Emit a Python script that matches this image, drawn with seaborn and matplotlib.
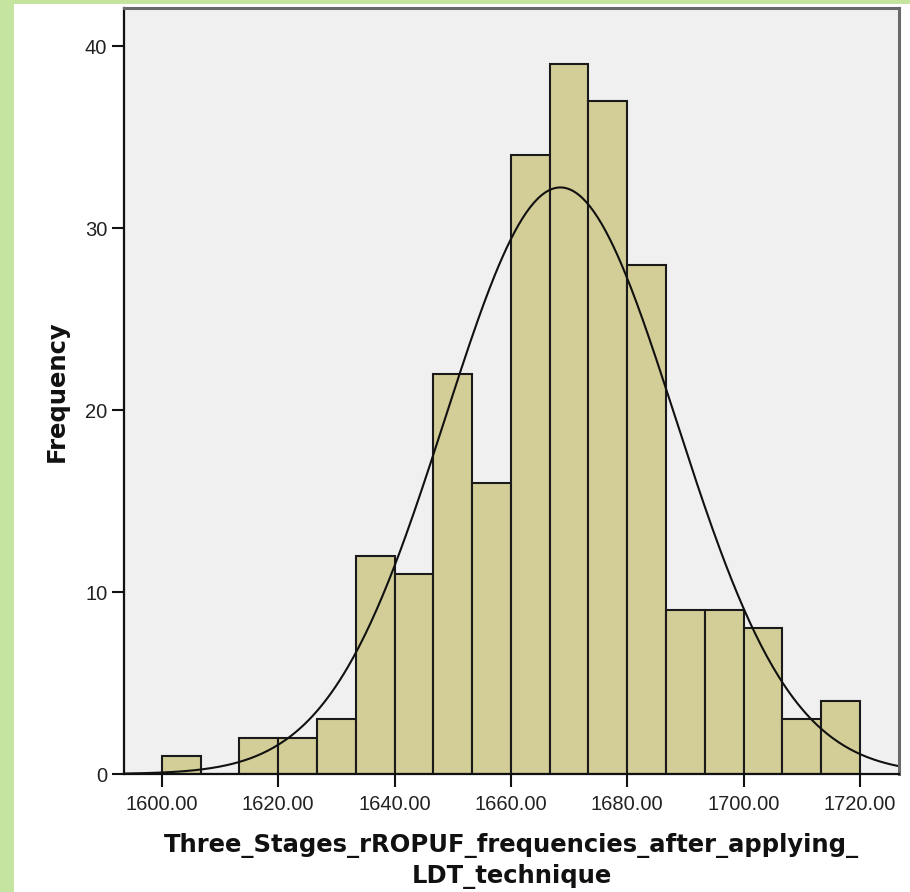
import numpy as np
import pandas as pd
import matplotlib
matplotlib.use("Agg")
import matplotlib.pyplot as plt
from matplotlib.patches import Rectangle
import seaborn as sns

# ---- data ----
bin_start = 1600.0
bin_end = 1720.0
n_bins = 18
counts = [1, 0, 2, 2, 3, 12, 11, 22, 16, 34, 39, 37, 28, 9, 9, 8, 3, 4]
curve_mean = 1668.5
curve_sd = 19.8
x_ticks = [1600, 1620, 1640, 1660, 1680, 1700, 1720]
y_ticks = [0, 10, 20, 30, 40]
x_label = "Three_Stages_rROPUF_frequencies_after_applying_\nLDT_technique"
y_label = "Frequency"

sns.set_theme(style="white")
plt.rcParams['font.family'] = ['Liberation Sans', 'DejaVu Sans']

edges = np.linspace(bin_start, bin_end, n_bins + 1)
centers = (edges[:-1] + edges[1:]) / 2
df = pd.DataFrame({"value": centers, "count": counts})

fig = plt.figure(figsize=(9.10, 8.92), dpi=100)
ax = fig.add_axes([124 / 910, 1 - 774 / 892, (899 - 124) / 910, (774 - 8) / 892])
ax.set_facecolor("#f0f0f0")

sns.histplot(data=df, x="value", weights="count", bins=[float(e) for e in edges], ax=ax,
             color="#d3ce97", alpha=1.0, edgecolor="#1a1a1a", linewidth=1.5)

xlim = (1593.5, 1726.7)
xs = np.linspace(xlim[0], xlim[1], 400)
total = sum(counts)
bw = (bin_end - bin_start) / n_bins
ys = total * bw / (curve_sd * np.sqrt(2 * np.pi)) * np.exp(-0.5 * ((xs - curve_mean) / curve_sd) ** 2)
sns.lineplot(x=xs, y=ys, ax=ax, color="#111111", linewidth=1.5)

ax.set_xlim(*xlim)
ax.set_ylim(0, 42.1)
ax.set_xticks(x_ticks)
ax.set_xticklabels([f"{t:.2f}" for t in x_ticks])
ax.set_yticks(y_ticks)
ax.tick_params(axis="both", direction="out", length=9, width=1.5, color="#111111",
               labelsize=14.5, labelcolor="#222222", bottom=True, left=True, pad=3)
ax.tick_params(axis="x", pad=6)

for s in ["left", "bottom"]:
    ax.spines[s].set_color("#111111")
    ax.spines[s].set_linewidth(1.6)
for s in ["top", "right"]:
    ax.spines[s].set_color("#6a6a6a")
    ax.spines[s].set_linewidth(2.2)
    ax.spines[s].set_visible(True)

ax.set_xlabel(x_label, fontsize=17.5, fontweight="bold", color="#111111", labelpad=14,
              linespacing=1.3, family=["DejaVu Sans"])
ax.set_ylabel(y_label, fontsize=17.5, fontweight="bold", color="#111111", labelpad=12,
              family=["DejaVu Sans"])

# green frame at left and top
fig.patches.append(Rectangle((0, 0), 14 / 910, 1, transform=fig.transFigure,
                             facecolor="#c5e4a0", edgecolor="none", zorder=-1))
fig.patches.append(Rectangle((0, 1 - 4 / 892), 1, 4 / 892, transform=fig.transFigure,
                             facecolor="#c5e4a0", edgecolor="none", zorder=-1))

fig.savefig("out.png", dpi=100, facecolor="white")
